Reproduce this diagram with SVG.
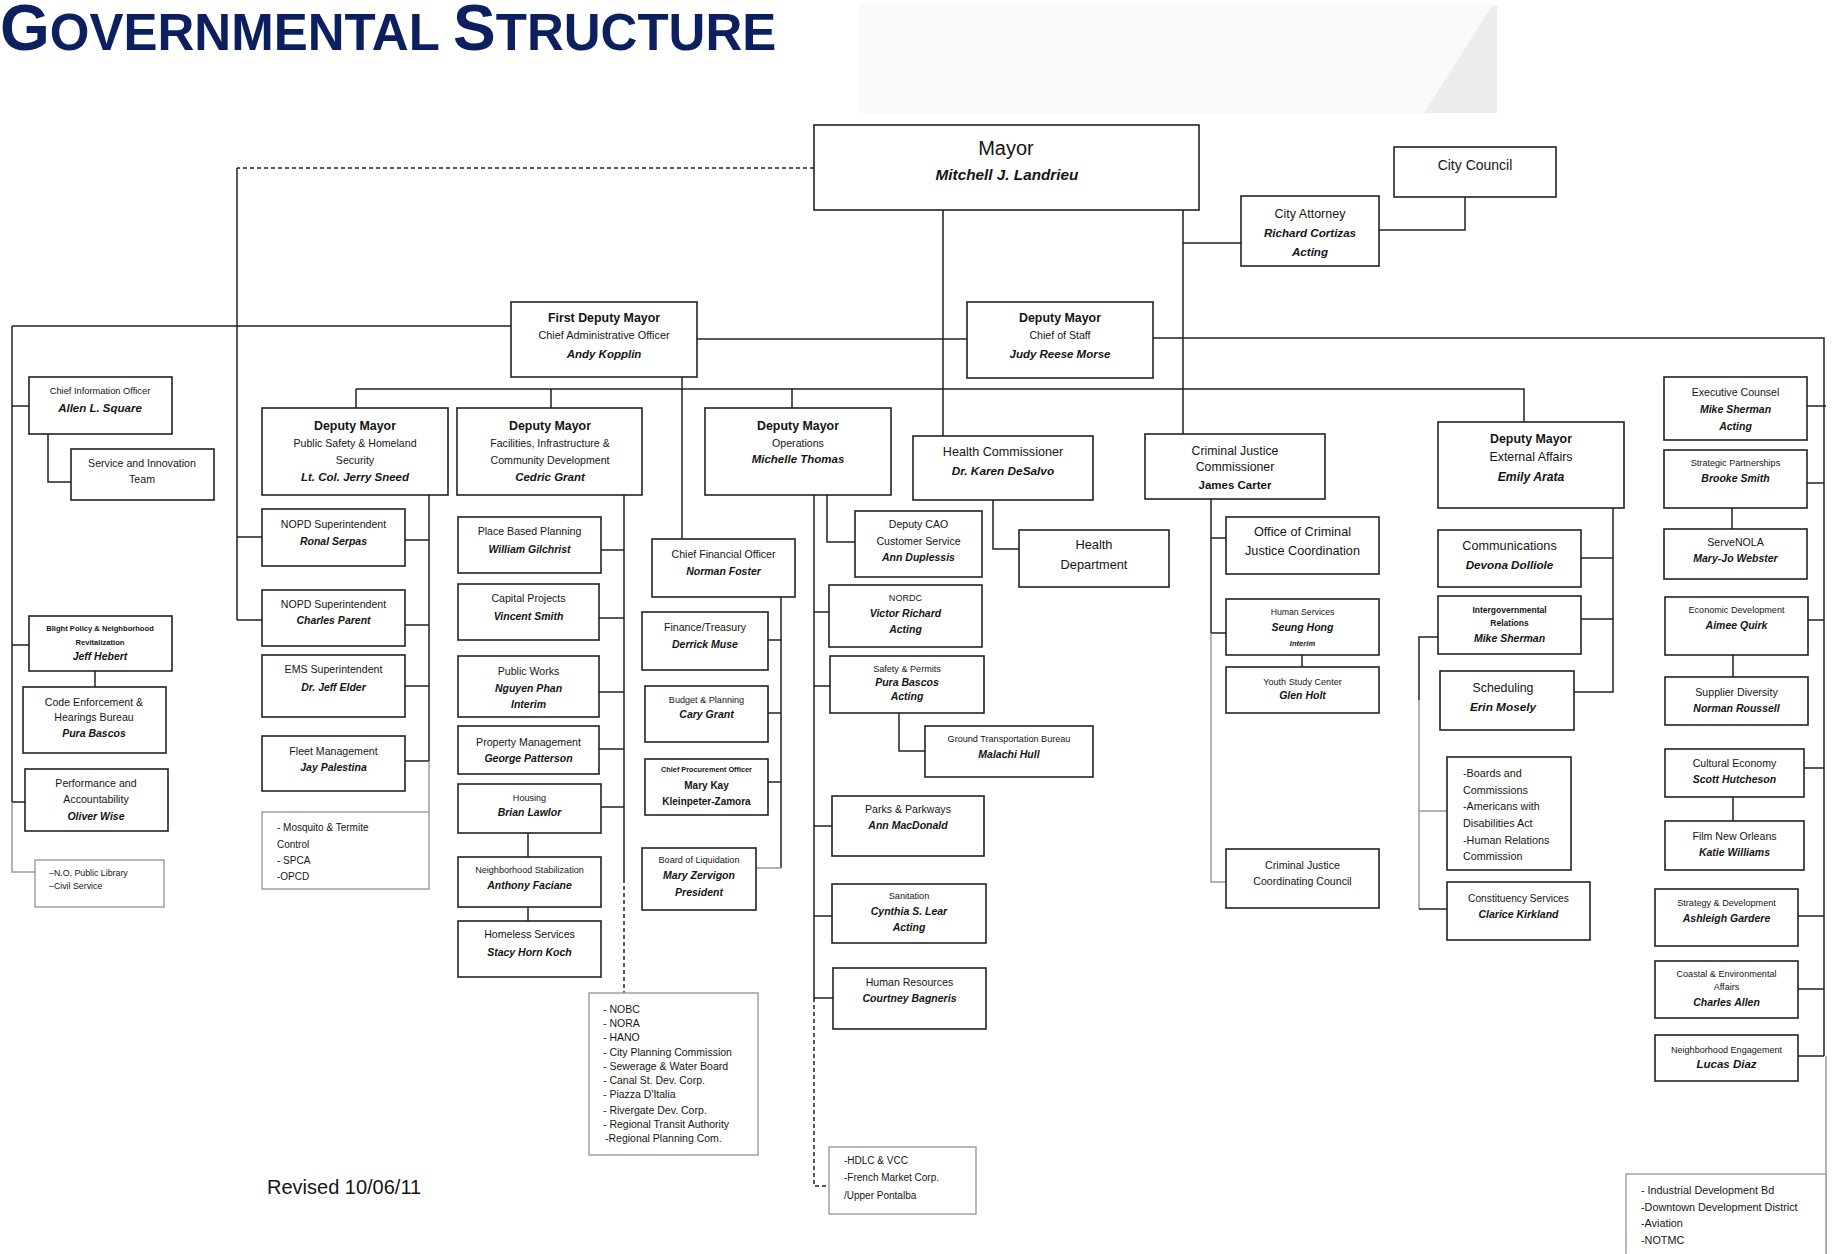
<svg xmlns="http://www.w3.org/2000/svg" width="1832" height="1254" viewBox="0 0 1832 1254">
<style>
text{font-family:"Liberation Sans",Arial,sans-serif;fill:#151515;text-anchor:middle}
.r{font-size:10.6px}
.n{font-size:10.5px;font-weight:bold;font-style:italic}
.nh{font-size:11.5px;font-weight:bold;font-style:italic}
.h{font-size:12.4px;font-weight:bold}
.s{font-size:9.1px}
.tb{font-size:7.6px;font-weight:bold}
.l{font-size:10.5px;text-anchor:start}
.box{fill:#fff;stroke:#222;stroke-width:1.6}
.gbox{fill:#fff;stroke:#9a9a9a;stroke-width:1.4}
.c{stroke:#222;stroke-width:1.5;fill:none}
.cg{stroke:#9a9a9a;stroke-width:1.5;fill:none}
.d{stroke-dasharray:4 3}
.title{font-family:"Liberation Sans",Arial,sans-serif;font-weight:bold;fill:#0c1f5e;text-anchor:start}
</style>
<rect width="1832" height="1254" fill="#fff"/>
<g id="header-bg">
<rect x="859" y="3" width="637" height="110" fill="#fafafa"/>
<polygon points="1424,113 1492,6 1497,6 1497,113" fill="#ececec"/>
</g>
<g id="title">
<text class="title" x="0" y="50"><tspan font-size="64">G</tspan><tspan font-size="51">OVERNMENTAL </tspan><tspan font-size="64">S</tspan><tspan font-size="51">TRUCTURE</tspan></text>
</g>
<g id="connectors">
<path class="c d" d="M814,168 H237"/>
<path class="c" d="M237,168 V620 M237,537 H262 M237,620 H262"/>
<path class="c" d="M12,326 H511 M12,326 V802 M12,406 H29 M12,645 H29 M12,802 H25"/>
<path class="cg" d="M12,802 V872 H35"/>
<path class="c" d="M48,434 V482 H71 M95,671 V687"/>
<path class="c" d="M697,339 H967"/>
<path class="c" d="M1153,338 H1824 V1056 M1807,406 H1826 M1807,483 H1824 M1808,620 H1824 M1804,768 H1824 M1798,916 H1824 M1798,989 H1824 M1798,1056 H1824"/>
<path class="cg" d="M1826,1056 V1254"/>
<path class="c" d="M1732,508 V529 M1733,655 V677 M1733,797 V821"/>
<path class="c" d="M943,210 V436 M1183,210 V434 M1183,243 H1241 M1465,197 V230 H1379"/>
<path class="c" d="M356,389 H1524 V422 M356,389 V408 M551,389 V408 M792,389 V408"/>
<path class="c" d="M682,377 V539"/>
<path class="c" d="M429,495 V761 M405,540 H429 M405,625 H429 M405,686 H429 M405,761 H429"/>
<path class="cg" d="M429,761 V812"/>
<path class="c" d="M624,495 V879 M601,550 H624 M599,618 H624 M599,692 H624 M599,749 H624 M601,807 H624"/>
<path class="c d" d="M624,879 V993"/>
<path class="c" d="M528,833 V857 M528,907 V921"/>
<path class="c" d="M781,597 V868 M768,640 H781 M768,713 H781 M768,782 H781"/>
<path class="cg" d="M756,868 H781"/>
<path class="c" d="M814,495 V998 M814,612 H829 M814,686 H830 M814,826 H832 M814,916 H832 M814,998 H833"/>
<path class="c d" d="M814,998 V1186 H829"/>
<path class="c" d="M827,495 V542 H855 M899,713 V751 H925"/>
<path class="c" d="M993,500 V549 H1019"/>
<path class="c" d="M1211,499 V633 M1211,538 H1226 M1211,633 H1226"/>
<path class="cg" d="M1211,633 V882 H1226"/>
<path class="c" d="M1302,655 V667"/>
<path class="c" d="M1613,508 V692 H1574 M1581,558 H1613 M1581,619 H1613"/>
<path class="c" d="M1438,637 H1419 V700"/>
<path class="cg" d="M1419,700 V909 M1419,811 H1447"/>
<path class="c" d="M1419,909 H1447"/>
</g>

<g id="mayor"><rect class="box" x="814" y="125" width="385" height="85"/>
<text x="1006" y="155" font-size="20">Mayor</text>
<text x="1007" y="180" style="font-size:15.3px;font-weight:bold;font-style:italic">Mitchell J. Landrieu</text></g>

<g id="city-council"><rect class="box" x="1394" y="147" width="162" height="50"/>
<text x="1475" y="170" font-size="14">City Council</text></g>

<g id="city-attorney"><rect class="box" x="1241" y="196" width="138" height="70"/>
<text x="1310" y="218" font-size="12.5">City Attorney</text>
<text class="n" x="1310" y="237" style="font-size:11.6px">Richard Cortizas</text>
<text class="n" x="1310" y="256" style="font-size:11.6px">Acting</text></g>

<g id="first-deputy-mayor"><rect class="box" x="511" y="302" width="186" height="75"/>
<text class="h" x="604" y="322">First Deputy Mayor</text>
<text class="r" x="604" y="339" style="font-size:10.9px">Chief Administrative Officer</text>
<text class="nh" x="604" y="358">Andy Kopplin</text></g>

<g id="chief-of-staff"><rect class="box" x="967" y="302" width="186" height="76"/>
<text class="h" x="1060" y="322">Deputy Mayor</text>
<text class="r" x="1060" y="339">Chief of Staff</text>
<text class="nh" x="1060" y="358">Judy Reese Morse</text></g>

<g id="cio"><rect class="box" x="29" y="377" width="143" height="57"/>
<text class="s" x="100" y="394" style="font-size:9.3px">Chief Information Officer</text>
<text class="nh" x="100" y="412">Allen L. Square</text></g>

<g id="service-innovation"><rect class="box" x="71" y="449" width="143" height="51"/>
<text class="r" x="142" y="467">Service and Innovation</text>
<text class="r" x="142" y="483">Team</text></g>

<g id="blight"><rect class="box" x="29" y="616" width="143" height="55"/>
<text class="tb" x="100" y="631">Blight Policy &amp; Neighborhood</text>
<text class="tb" x="100" y="645">Revitalization</text>
<text class="n" x="100" y="660">Jeff Hebert</text></g>

<g id="code-enforcement"><rect class="box" x="23" y="687" width="143" height="66"/>
<text class="r" x="94" y="706">Code Enforcement &amp;</text>
<text class="r" x="94" y="721">Hearings Bureau</text>
<text class="n" x="94" y="737">Pura Bascos</text></g>

<g id="performance"><rect class="box" x="25" y="769" width="143" height="62"/>
<text class="r" x="96" y="787">Performance and</text>
<text class="r" x="96" y="803">Accountability</text>
<text class="n" x="96" y="820">Oliver Wise</text></g>

<g id="library"><rect class="gbox" x="35" y="860" width="129" height="47"/>
<text class="l" x="49" y="876" style="font-size:8.8px">–N.O.  Public Library</text>
<text class="l" x="49" y="889" style="font-size:8.8px">–Civil Service</text></g>

<g id="dm-public-safety"><rect class="box" x="262" y="408" width="186" height="87"/>
<text class="h" x="355" y="430">Deputy Mayor</text>
<text class="r" x="355" y="447">Public Safety &amp; Homeland</text>
<text class="r" x="355" y="464">Security</text>
<text class="nh" x="355" y="481">Lt. Col. Jerry Sneed</text></g>

<g id="nopd-serpas"><rect class="box" x="262" y="509" width="143" height="57"/>
<text class="r" x="333.5" y="528">NOPD Superintendent</text>
<text class="n" x="333.5" y="545">Ronal Serpas</text></g>

<g id="nopd-parent"><rect class="box" x="262" y="590" width="143" height="56"/>
<text class="r" x="333.5" y="608">NOPD Superintendent</text>
<text class="n" x="333.5" y="624">Charles Parent</text></g>

<g id="ems"><rect class="box" x="262" y="655" width="143" height="62"/>
<text class="r" x="333.5" y="673">EMS Superintendent</text>
<text class="n" x="333.5" y="691">Dr. Jeff Elder</text></g>

<g id="fleet"><rect class="box" x="262" y="736" width="143" height="55"/>
<text class="r" x="333.5" y="755">Fleet Management</text>
<text class="n" x="333.5" y="771">Jay Palestina</text></g>

<g id="mosquito"><rect class="gbox" x="262" y="812" width="167" height="77"/>
<text class="l" x="277" y="831" style="font-size:10px">- Mosquito &amp; Termite</text>
<text class="l" x="277" y="848" style="font-size:10px">Control</text>
<text class="l" x="277" y="864" style="font-size:10px">- SPCA</text>
<text class="l" x="277" y="880" style="font-size:10px">-OPCD</text></g>

<g id="dm-facilities"><rect class="box" x="457" y="408" width="185" height="87"/>
<text class="h" x="550" y="430">Deputy Mayor</text>
<text class="r" x="550" y="447">Facilities, Infrastructure &amp;</text>
<text class="r" x="550" y="464">Community Development</text>
<text class="nh" x="550" y="481">Cedric Grant</text></g>

<g id="place-based"><rect class="box" x="458" y="517" width="143" height="56"/>
<text class="r" x="529.5" y="535">Place Based Planning</text>
<text class="n" x="529.5" y="553">William Gilchrist</text></g>

<g id="capital"><rect class="box" x="458" y="584" width="141" height="56"/>
<text class="r" x="528.5" y="602">Capital Projects</text>
<text class="n" x="528.5" y="620">Vincent Smith</text></g>

<g id="public-works"><rect class="box" x="458" y="656" width="141" height="61"/>
<text class="r" x="528.5" y="675">Public Works</text>
<text class="n" x="528.5" y="692">Nguyen Phan</text>
<text class="n" x="528.5" y="708">Interim</text></g>

<g id="property"><rect class="box" x="458" y="726" width="141" height="48"/>
<text class="r" x="528.5" y="746">Property Management</text>
<text class="n" x="528.5" y="762">George Patterson</text></g>

<g id="housing"><rect class="box" x="458" y="784" width="143" height="49"/>
<text class="s" x="529.5" y="801">Housing</text>
<text class="n" x="529.5" y="816">Brian Lawlor</text></g>

<g id="neighborhood-stab"><rect class="box" x="458" y="857" width="143" height="50"/>
<text class="s" x="529.5" y="873">Neighborhood Stabilization</text>
<text class="n" x="529.5" y="889">Anthony Faciane</text></g>

<g id="homeless"><rect class="box" x="458" y="921" width="143" height="56"/>
<text class="r" x="529.5" y="938">Homeless Services</text>
<text class="n" x="529.5" y="956">Stacy Horn Koch</text></g>

<g id="boards-facilities"><rect class="gbox" x="589" y="993" width="169" height="162"/>
<text class="l" x="603" y="1013">-  NOBC</text>
<text class="l" x="603" y="1027">- NORA</text>
<text class="l" x="603" y="1041">- HANO</text>
<text class="l" x="603" y="1056">- City Planning Commission</text>
<text class="l" x="603" y="1070">- Sewerage &amp; Water Board</text>
<text class="l" x="603" y="1084">- Canal St. Dev. Corp.</text>
<text class="l" x="603" y="1098">- Piazza D'Italia</text>
<text class="l" x="603" y="1114">-  Rivergate Dev. Corp.</text>
<text class="l" x="603" y="1128">- Regional Transit Authority</text>
<text class="l" x="605" y="1142">-Regional Planning Com.</text></g>

<g id="cfo"><rect class="box" x="652" y="539" width="143" height="58"/>
<text class="r" x="723.5" y="558">Chief Financial Officer</text>
<text class="n" x="723.5" y="575">Norman Foster</text></g>

<g id="finance"><rect class="box" x="642" y="612" width="126" height="58"/>
<text class="r" x="705" y="631">Finance/Treasury</text>
<text class="n" x="705" y="648">Derrick Muse</text></g>

<g id="budget"><rect class="box" x="645" y="686" width="123" height="56"/>
<text class="s" x="706.5" y="703">Budget &amp; Planning</text>
<text class="n" x="706.5" y="718">Cary Grant</text></g>

<g id="procurement"><rect class="box" x="645" y="759" width="123" height="56"/>
<text class="tb" x="706.5" y="772" style="font-size:7.3px">Chief Procurement Officer</text>
<text x="706.5" y="789" style="font-size:10px;font-weight:bold">Mary Kay</text>
<text x="706.5" y="805" style="font-size:10px;font-weight:bold">Kleinpeter-Zamora</text></g>

<g id="liquidation"><rect class="box" x="642" y="848" width="114" height="62"/>
<text class="s" x="699" y="863">Board of Liquidation</text>
<text class="n" x="699" y="879">Mary Zervigon</text>
<text class="n" x="699" y="896">President</text></g>

<g id="dm-operations"><rect class="box" x="705" y="408" width="186" height="87"/>
<text class="h" x="798" y="430">Deputy Mayor</text>
<text class="r" x="798" y="447">Operations</text>
<text class="nh" x="798" y="463">Michelle Thomas</text></g>

<g id="deputy-cao"><rect class="box" x="855" y="511" width="127" height="66"/>
<text class="r" x="918.5" y="528">Deputy CAO</text>
<text class="r" x="918.5" y="545">Customer Service</text>
<text class="n" x="918.5" y="561">Ann Duplessis</text></g>

<g id="nordc"><rect class="box" x="829" y="585" width="153" height="62"/>
<text class="s" x="905.5" y="601">NORDC</text>
<text class="n" x="905.5" y="617">Victor Richard</text>
<text class="n" x="905.5" y="633">Acting</text></g>

<g id="safety-permits"><rect class="box" x="830" y="656" width="154" height="57"/>
<text class="s" x="907" y="672">Safety &amp; Permits</text>
<text class="n" x="907" y="686">Pura Bascos</text>
<text class="n" x="907" y="700">Acting</text></g>

<g id="ground-transport"><rect class="box" x="925" y="726" width="168" height="51"/>
<text class="s" x="1009" y="742">Ground Transportation Bureau</text>
<text class="n" x="1009" y="758">Malachi Hull</text></g>

<g id="parks"><rect class="box" x="832" y="796" width="152" height="60"/>
<text class="r" x="908" y="813">Parks &amp; Parkways</text>
<text class="n" x="908" y="829">Ann MacDonald</text></g>

<g id="sanitation"><rect class="box" x="832" y="884" width="154" height="59"/>
<text class="s" x="909" y="899">Sanitation</text>
<text class="n" x="909" y="915">Cynthia S. Lear</text>
<text class="n" x="909" y="931">Acting</text></g>

<g id="human-resources"><rect class="box" x="833" y="968" width="153" height="61"/>
<text class="r" x="909.5" y="986">Human Resources</text>
<text class="n" x="909.5" y="1002">Courtney Bagneris</text></g>

<g id="hdlc"><rect class="gbox" x="829" y="1147" width="147" height="67"/>
<text class="l" x="844" y="1164" style="font-size:10px">-HDLC &amp; VCC</text>
<text class="l" x="844" y="1181" style="font-size:10px">-French Market Corp.</text>
<text class="l" x="844" y="1199" style="font-size:10px">/Upper Pontalba</text></g>

<g id="health-commissioner"><rect class="box" x="913" y="436" width="180" height="64"/>
<text x="1003" y="456" font-size="12.6">Health Commissioner</text>
<text class="nh" x="1003" y="475" style="font-size:11.8px">Dr. Karen DeSalvo</text></g>

<g id="health-department"><rect class="box" x="1019" y="530" width="150" height="57"/>
<text x="1094" y="549" font-size="12.8">Health</text>
<text x="1094" y="569" font-size="12.8">Department</text></g>

<g id="criminal-justice-commissioner"><rect class="box" x="1145" y="434" width="180" height="65"/>
<text x="1235" y="455" font-size="12.3">Criminal Justice</text>
<text x="1235" y="471" font-size="12.3">Commissioner</text>
<text x="1235" y="489" style="font-size:11.5px;font-weight:bold">James Carter</text></g>

<g id="ocjc"><rect class="box" x="1226" y="517" width="153" height="57"/>
<text x="1302.5" y="536" font-size="12.7">Office of Criminal</text>
<text x="1302.5" y="555" font-size="12.7">Justice Coordination</text></g>

<g id="human-services"><rect class="box" x="1226" y="599" width="153" height="56"/>
<text class="s" x="1302.5" y="615" style="font-size:8.7px">Human Services</text>
<text class="n" x="1302.5" y="631">Seung Hong</text>
<text class="tb" x="1302.5" y="646" style="font-style:italic">Interim</text></g>

<g id="youth-study"><rect class="box" x="1226" y="667" width="153" height="46"/>
<text class="s" x="1302.5" y="685">Youth Study Center</text>
<text class="n" x="1302.5" y="699">Glen Holt</text></g>

<g id="cjcc"><rect class="box" x="1226" y="849" width="153" height="59"/>
<text class="r" x="1302.5" y="869">Criminal Justice</text>
<text class="r" x="1302.5" y="885">Coordinating Council</text></g>

<g id="dm-external"><rect class="box" x="1438" y="422" width="186" height="86"/>
<text class="h" x="1531" y="443">Deputy Mayor</text>
<text x="1531" y="461" font-size="12.4">External Affairs</text>
<text class="nh" x="1531" y="481" style="font-size:12.2px">Emily Arata</text></g>

<g id="communications"><rect class="box" x="1438" y="530" width="143" height="57"/>
<text x="1509.5" y="550" font-size="12.7">Communications</text>
<text class="nh" x="1509.5" y="569" style="font-size:11.7px">Devona Dolliole</text></g>

<g id="intergov"><rect class="box" x="1438" y="596" width="143" height="58"/>
<text class="tb" x="1509.5" y="613" style="font-size:8.5px">Intergovernmental</text>
<text class="tb" x="1509.5" y="626" style="font-size:8.5px">Relations</text>
<text class="n" x="1509.5" y="642">Mike Sherman</text></g>

<g id="scheduling"><rect class="box" x="1440" y="671" width="134" height="59"/>
<text x="1503" y="692" font-size="12.3">Scheduling</text>
<text class="nh" x="1503" y="711" style="font-size:11.8px">Erin Mosely</text></g>

<g id="boards-external"><rect class="box" x="1447" y="757" width="124" height="113"/>
<text class="l" x="1463" y="777" style="font-size:10.8px">-Boards and</text>
<text class="l" x="1463" y="794" style="font-size:10.8px">Commissions</text>
<text class="l" x="1463" y="810" style="font-size:10.8px">-Americans with</text>
<text class="l" x="1463" y="827" style="font-size:10.8px">Disabilities Act</text>
<text class="l" x="1463" y="844" style="font-size:10.8px">-Human Relations</text>
<text class="l" x="1463" y="860" style="font-size:10.8px">Commission</text></g>

<g id="constituency"><rect class="box" x="1447" y="882" width="143" height="58"/>
<text class="r" x="1518.5" y="902" style="font-size:10.2px">Constituency Services</text>
<text class="n" x="1518.5" y="918">Clarice Kirkland</text></g>

<g id="exec-counsel"><rect class="box" x="1664" y="377" width="143" height="63"/>
<text class="r" x="1735.5" y="396">Executive Counsel</text>
<text class="n" x="1735.5" y="413">Mike Sherman</text>
<text class="n" x="1735.5" y="430">Acting</text></g>

<g id="strategic-partnerships"><rect class="box" x="1664" y="450" width="143" height="58"/>
<text class="s" x="1735.5" y="466">Strategic Partnerships</text>
<text class="n" x="1735.5" y="482">Brooke Smith</text></g>

<g id="servenola"><rect class="box" x="1664" y="529" width="143" height="50"/>
<text class="r" x="1735.5" y="546">ServeNOLA</text>
<text class="n" x="1735.5" y="562">Mary-Jo Webster</text></g>

<g id="economic-dev"><rect class="box" x="1665" y="597" width="143" height="58"/>
<text class="s" x="1736.5" y="613">Economic Development</text>
<text class="n" x="1736.5" y="629">Aimee Quirk</text></g>

<g id="supplier"><rect class="box" x="1665" y="677" width="143" height="48"/>
<text class="r" x="1736.5" y="696">Supplier Diversity</text>
<text class="n" x="1736.5" y="712">Norman Roussell</text></g>

<g id="cultural"><rect class="box" x="1665" y="749" width="139" height="48"/>
<text class="r" x="1734.5" y="767">Cultural Economy</text>
<text class="n" x="1734.5" y="783">Scott Hutcheson</text></g>

<g id="film"><rect class="box" x="1665" y="821" width="139" height="49"/>
<text class="r" x="1734.5" y="840">Film New Orleans</text>
<text class="n" x="1734.5" y="856">Katie Williams</text></g>

<g id="strategy"><rect class="box" x="1655" y="889" width="143" height="57"/>
<text class="s" x="1726.5" y="906">Strategy &amp; Development</text>
<text class="n" x="1726.5" y="922">Ashleigh Gardere</text></g>

<g id="coastal"><rect class="box" x="1655" y="961" width="143" height="57"/>
<text class="s" x="1726.5" y="977">Coastal &amp; Environmental</text>
<text class="s" x="1726.5" y="990">Affairs</text>
<text class="n" x="1726.5" y="1006">Charles Allen</text></g>

<g id="neighborhood-engagement"><rect class="box" x="1655" y="1035" width="143" height="46"/>
<text class="s" x="1726.5" y="1053">Neighborhood Engagement</text>
<text class="nh" x="1726.5" y="1068">Lucas Diaz</text></g>

<g id="industrial"><rect class="gbox" x="1626" y="1174" width="200" height="95"/>
<text class="l" x="1641" y="1194" style="font-size:10.8px">- Industrial Development Bd</text>
<text class="l" x="1641" y="1211" style="font-size:10.8px">-Downtown Development District</text>
<text class="l" x="1641" y="1227" style="font-size:10.8px">-Aviation</text>
<text class="l" x="1641" y="1244" style="font-size:10.8px">-NOTMC</text></g>

<text x="267" y="1194" font-size="20" style="text-anchor:start">Revised 10/06/11</text>
</svg>
